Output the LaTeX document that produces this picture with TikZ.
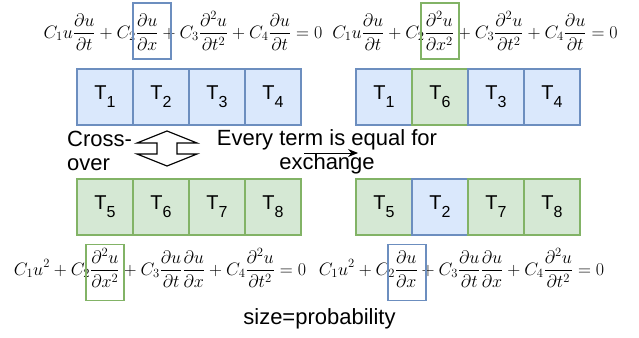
\RequirePackage{fix-cm}
\documentclass[tikz,border=0pt]{standalone}
\usepackage{amsmath}
\usepackage[no-math]{fontspec}
\setmainfont{Liberation Sans}
\usetikzlibrary{
    positioning,
    arrows.meta
}
\definecolor{AzulFill}{HTML}{DAE8FC}
\definecolor{AzulLine}{HTML}{6C8EBF}
\definecolor{VerdeFill}{HTML}{D5E8D4}
\definecolor{VerdeLine}{HTML}{82B366}

\newcommand{\term}[1]{T\raisebox{-8pt}{\fontsize{16}{16}\selectfont #1}}

\tikzset{
    cell/.style={draw, line width=1.2pt, minimum width=56pt, minimum height=56pt,
        inner sep=0pt, outer sep=0pt, font=\fontsize{20}{20}\selectfont},
    azulcell/.style={cell, draw=AzulLine, fill=AzulFill},
    verdecell/.style={cell, draw=VerdeLine, fill=VerdeFill},
    termbox/.style={draw, line width=1.2pt, minimum width=38pt, minimum height=56pt,
        inner sep=0pt},
    eqn/.style={font=\fontsize{18}{18}\selectfont, inner sep=0pt},
    lbl/.style={font=\fontsize{22}{24}\selectfont, inner sep=0pt}
}

\begin{document}
\begin{tikzpicture}[x=1pt, y=-1pt]

    \useasboundingbox (0,0) rectangle (639,337);

    % equations
    \node[eqn] (eqpa) at (183,31)
        {$\displaystyle C_1u\frac{\partial u}{\partial t}+C_2\frac{\partial u}{\partial x}
        +C_3\frac{\partial^2u}{\partial t^2}+C_4\frac{\partial u}{\partial t}=0$};
    \node[eqn] (eqca) at (475,31)
        {$\displaystyle C_1u\frac{\partial u}{\partial t}+C_2\frac{\partial^2u}{\partial x^2}
        +C_3\frac{\partial^2u}{\partial t^2}+C_4\frac{\partial u}{\partial t}=0$};
    \node[eqn] (eqpb) at (160,268)
        {$\displaystyle C_1u^2+C_2\frac{\partial^2u}{\partial x^2}
        +C_3\frac{\partial u}{\partial t}\frac{\partial u}{\partial x}+C_4\frac{\partial^2u}{\partial t^2}=0$};
    \node[eqn] (eqcb) at (461.5,268)
        {$\displaystyle C_1u^2+C_2\frac{\partial u}{\partial x}
        +C_3\frac{\partial u}{\partial t}\frac{\partial u}{\partial x}+C_4\frac{\partial^2u}{\partial t^2}=0$};

    % boxes round the exchanged terms
    \node[termbox, draw=AzulLine] (boxpa) at (152,31) {};
    \node[termbox, draw=VerdeLine] (boxca) at (440,31) {};
    \node[termbox, draw=VerdeLine] (boxpb) at (105,272.5) {};
    \node[termbox, draw=AzulLine] (boxcb) at (407,272.5) {};

    % parent A
    \node[azulcell] (pa1) at (105,97) {\term{1}};
    \node[azulcell, right=0pt of pa1] (pa2) {\term{2}};
    \node[azulcell, right=0pt of pa2] (pa3) {\term{3}};
    \node[azulcell, right=0pt of pa3] (pa4) {\term{4}};

    % child A
    \node[azulcell] (ca1) at (384,97) {\term{1}};
    \node[verdecell, right=0pt of ca1] (ca2) {\term{6}};
    \node[azulcell, right=0pt of ca2] (ca3) {\term{3}};
    \node[azulcell, right=0pt of ca3] (ca4) {\term{4}};

    % parent B
    \node[verdecell] (pb1) at (105,207) {\term{5}};
    \node[verdecell, right=0pt of pb1] (pb2) {\term{6}};
    \node[verdecell, right=0pt of pb2] (pb3) {\term{7}};
    \node[verdecell, right=0pt of pb3] (pb4) {\term{8}};

    % child B
    \node[verdecell] (cb1) at (384,207) {\term{5}};
    \node[azulcell, right=0pt of cb1] (cb2) {\term{2}};
    \node[verdecell, right=0pt of cb2] (cb3) {\term{7}};
    \node[verdecell, right=0pt of cb3] (cb4) {\term{8}};

    % crossover
    \node[lbl, align=left, anchor=west] (xlabel) at (67,151) {Cross-\\over};
    \coordinate (xo) at (167,149);
    \draw[line width=1.2pt, line join=miter, shift={(xo)}]
        (0,-18) -- (30,-6) -- (10,-6) -- (10,5) -- (30,5) -- (0,17)
        -- (-30,5) -- (-10,5) -- (-10,-6) -- (-30,-6) -- cycle;

    \node[lbl, align=center] (exlabel) at (327,151.5) {Every term is equal for\\exchange};
    \coordinate (exfrom) at (304,153);
    \coordinate (exto) at (358,153);
    \draw[-{Stealth[length=10pt, width=8pt]}, line width=1pt] (exfrom) -- (exto);

    \node[lbl] (sizelabel) at (319.5,318.5) {size=probability};

\end{tikzpicture}
\end{document}
